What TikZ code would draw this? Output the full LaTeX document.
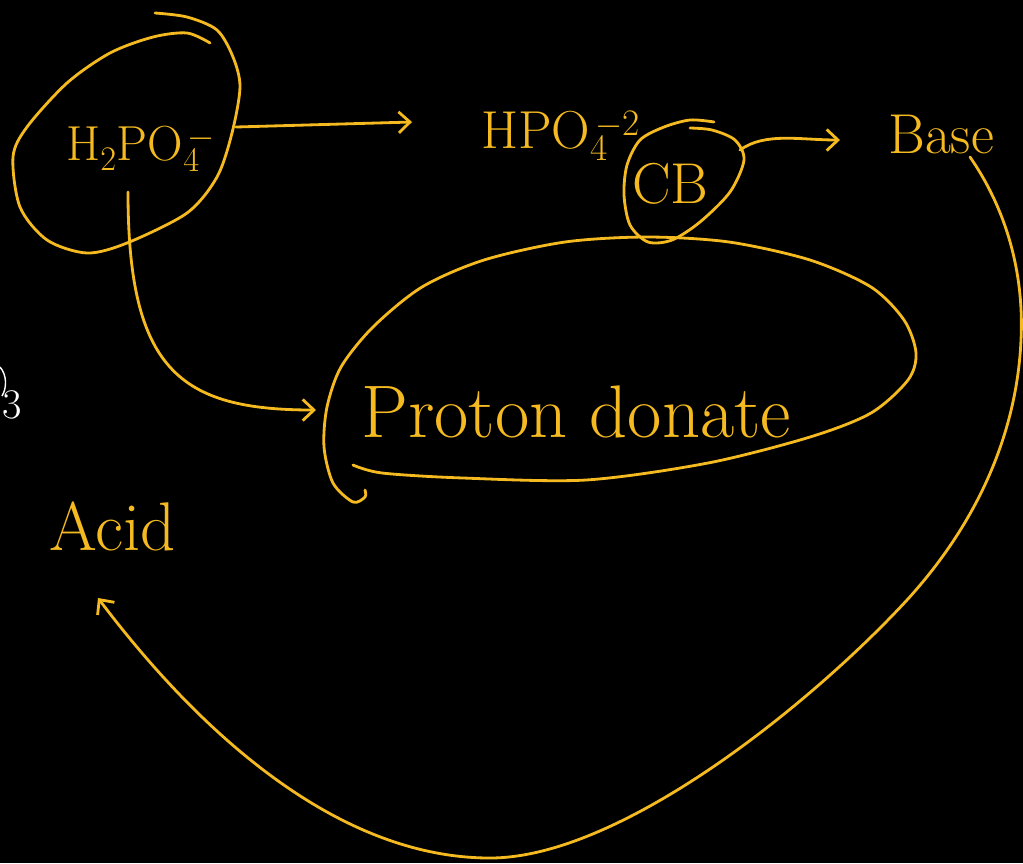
\documentclass[tikz,border=0pt]{standalone}
\usetikzlibrary{arrows.meta}
\definecolor{chalk}{RGB}{245,186,32}

\begin{document}
\begin{tikzpicture}[x=0.025cm,y=-0.025cm,
  ink/.style={draw=chalk,line width=2pt,line cap=round,line join=round},
  arr/.style={ink,-{Straight Barb[length=8pt,width=15pt]}},
  lbl/.style={text=chalk,inner sep=0pt,anchor=base west}]
  \fill[black] (0,0) rectangle (1023,863);
  \useasboundingbox (0,0) rectangle (1023,863);
  % labels
  \node[lbl,font=\fontsize{35}{40}\selectfont] (h2po) at (66,160)
    {H\textsubscript{2}PO\textsubscript{4}\textsuperscript{\kern-0.35em$-$}};
  \node[lbl,font=\fontsize{38}{42}\selectfont] (hpo) at (481,148)
    {HPO\textsubscript{4}\textsuperscript{\kern-0.35em$-$2}};
  \node[lbl,font=\fontsize{41}{46}\selectfont] (cb) at (632,203) {CB};
  \node[lbl,font=\fontsize{40}{46}\selectfont] (base) at (888,153) {Base};
  \node[lbl,font=\fontsize{53}{60}\selectfont] (donor) at (361,437) {Proton donate};
  \node[lbl,font=\fontsize{49}{56}\selectfont] (acid) at (49,550) {Acid};
  \node[lbl,text=white,font=\fontsize{30}{34}\selectfont] (three) at (2,418) {3};
  \draw[white,line width=1pt] (0,367) .. controls (7,375) and (7,388) .. (2,396);
  % loops round the labels
  \draw[ink] plot[smooth] coordinates {(210,43) (187,33) (153,37) (110,53) (67,83)
    (27,127) (13,157) (20,207) (47,240) (87,253) (127,243) (187,213) (217,177)
    (232,133) (240,87) (233,57) (217,30) (187,17) (155,13)};
  \draw[ink] plot[smooth] coordinates {(714,122) (690,120) (664,127) (640,140)
    (627,165) (624,195) (630,225) (648,242) (672,240) (700,222) (730,192)
    (744,160) (735,140) (712,130) (690,128)};
  \draw[ink] plot[smooth] coordinates {(353,465) (382,473) (463,478) (586,480)
    (708,463) (810,437) (871,413) (908,380) (916,353) (904,320) (871,287)
    (810,260) (729,242) (647,237) (565,242) (484,260) (422,287) (373,327)
    (341,367) (327,407) (324,447) (333,483) (353,502) (365,497) (365,490)};
  % connectors
  \coordinate (h2poR) at (236,127);
  \coordinate (hpoL) at (412,122);
  \coordinate (h2poB) at (128,192);
  \coordinate (donorL) at (316,410);
  \coordinate (cbR) at (740,150);
  \coordinate (baseL) at (840,140);
  \coordinate (baseB) at (970,157);
  \coordinate (acidB) at (98,598);
  \draw[arr] (h2poR) -- (hpoL);
  \draw[arr] (h2poB) .. controls (128,370) and (180,410) .. (donorL);
  \draw[arr] (cbR) .. controls (765,132) and (800,140) .. (baseL);
  \draw[arr] (baseB) .. controls (1010,215) and (1024,280) .. (1021,340)
    .. controls (1017,430) and (980,520) .. (907,600)
    .. controls (810,705) and (620,858) .. (490,858)
    .. controls (330,858) and (190,720) .. (acidB);
\end{tikzpicture}
\end{document}
